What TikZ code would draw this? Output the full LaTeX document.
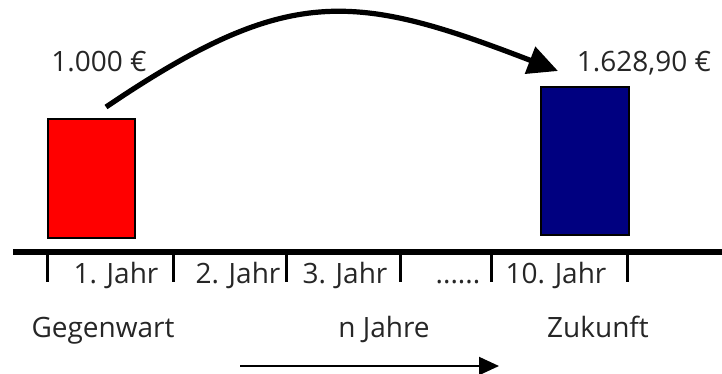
\documentclass[tikz,border=0pt]{standalone}
\usepackage{fontspec}
\setmainfont{Open Sans}
\usetikzlibrary{calc, positioning}
\usetikzlibrary{arrows.meta}

\definecolor{navyblue}{RGB}{0,0,128}
\definecolor{textgray}{RGB}{38,38,38}

\begin{document}
\begin{tikzpicture}[x=0.5pt, y=-0.5pt,
    txt/.style={inner sep=0, anchor=base, text=textgray,
        font=\fontsize{14}{17}\selectfont},
    bar/.style={draw=black, line width=1pt, inner sep=0, anchor=north west}]
\useasboundingbox (0,0) rectangle (722,374);
\def\tickTop{255}
\def\tickBot{282}

% Balken
\node[bar, fill=red, minimum width=87pt*0.5, minimum height=119pt*0.5]
    (heute) at (47,118) {};
\node[bar, fill=navyblue, minimum width=88pt*0.5, minimum height=148pt*0.5]
    (spaeter) at (540,86) {};

% Zeitachse
\coordinate (axisL) at (13,252);
\coordinate (axisR) at (722,252);
\draw[line width=2.6pt, black] (axisL) -- (axisR);
\foreach \x in {47,173,286,400,491,627}
    \draw[line width=1.5pt, black] (\x,\tickTop) -- (\x,\tickBot);

\node[txt] (j1) at (116,283) {1. Jahr};
\node[txt] (j2) at (238,283) {2. Jahr};
\node[txt] (j3) at (345,283) {3. Jahr};
\node[txt] (jdots) at (458,283) {......};
\node[txt] (j10) at (556,283) {10. Jahr};

% Betraege
\node[txt] (betragA) at (99,72) {1.000 €};
\node[txt] (betragB) at (644,72) {1.628,90 €};

% Aufzinsung
\coordinate (kurveStart) at (106,107);
\coordinate (kurveEnde) at (558,71);
\draw[line width=2.6pt, black, -{Triangle[length=15pt, width=14pt]}]
    (kurveStart) .. controls (288,-16) and (353,-8) .. (kurveEnde);

% untere Zeile
\node[txt] (gegenwart) at (103,337) {Gegenwart};
\node[txt] (njahre) at (384,337) {n Jahre};
\node[txt] (zukunft) at (598,337) {Zukunft};
\coordinate (pfeilStart) at (240,366);
\coordinate (pfeilEnde) at (499,366);
\draw[line width=1pt, black, -{Triangle[length=10pt, width=9pt]}]
    (pfeilStart) -- (pfeilEnde);
\end{tikzpicture}
\end{document}
